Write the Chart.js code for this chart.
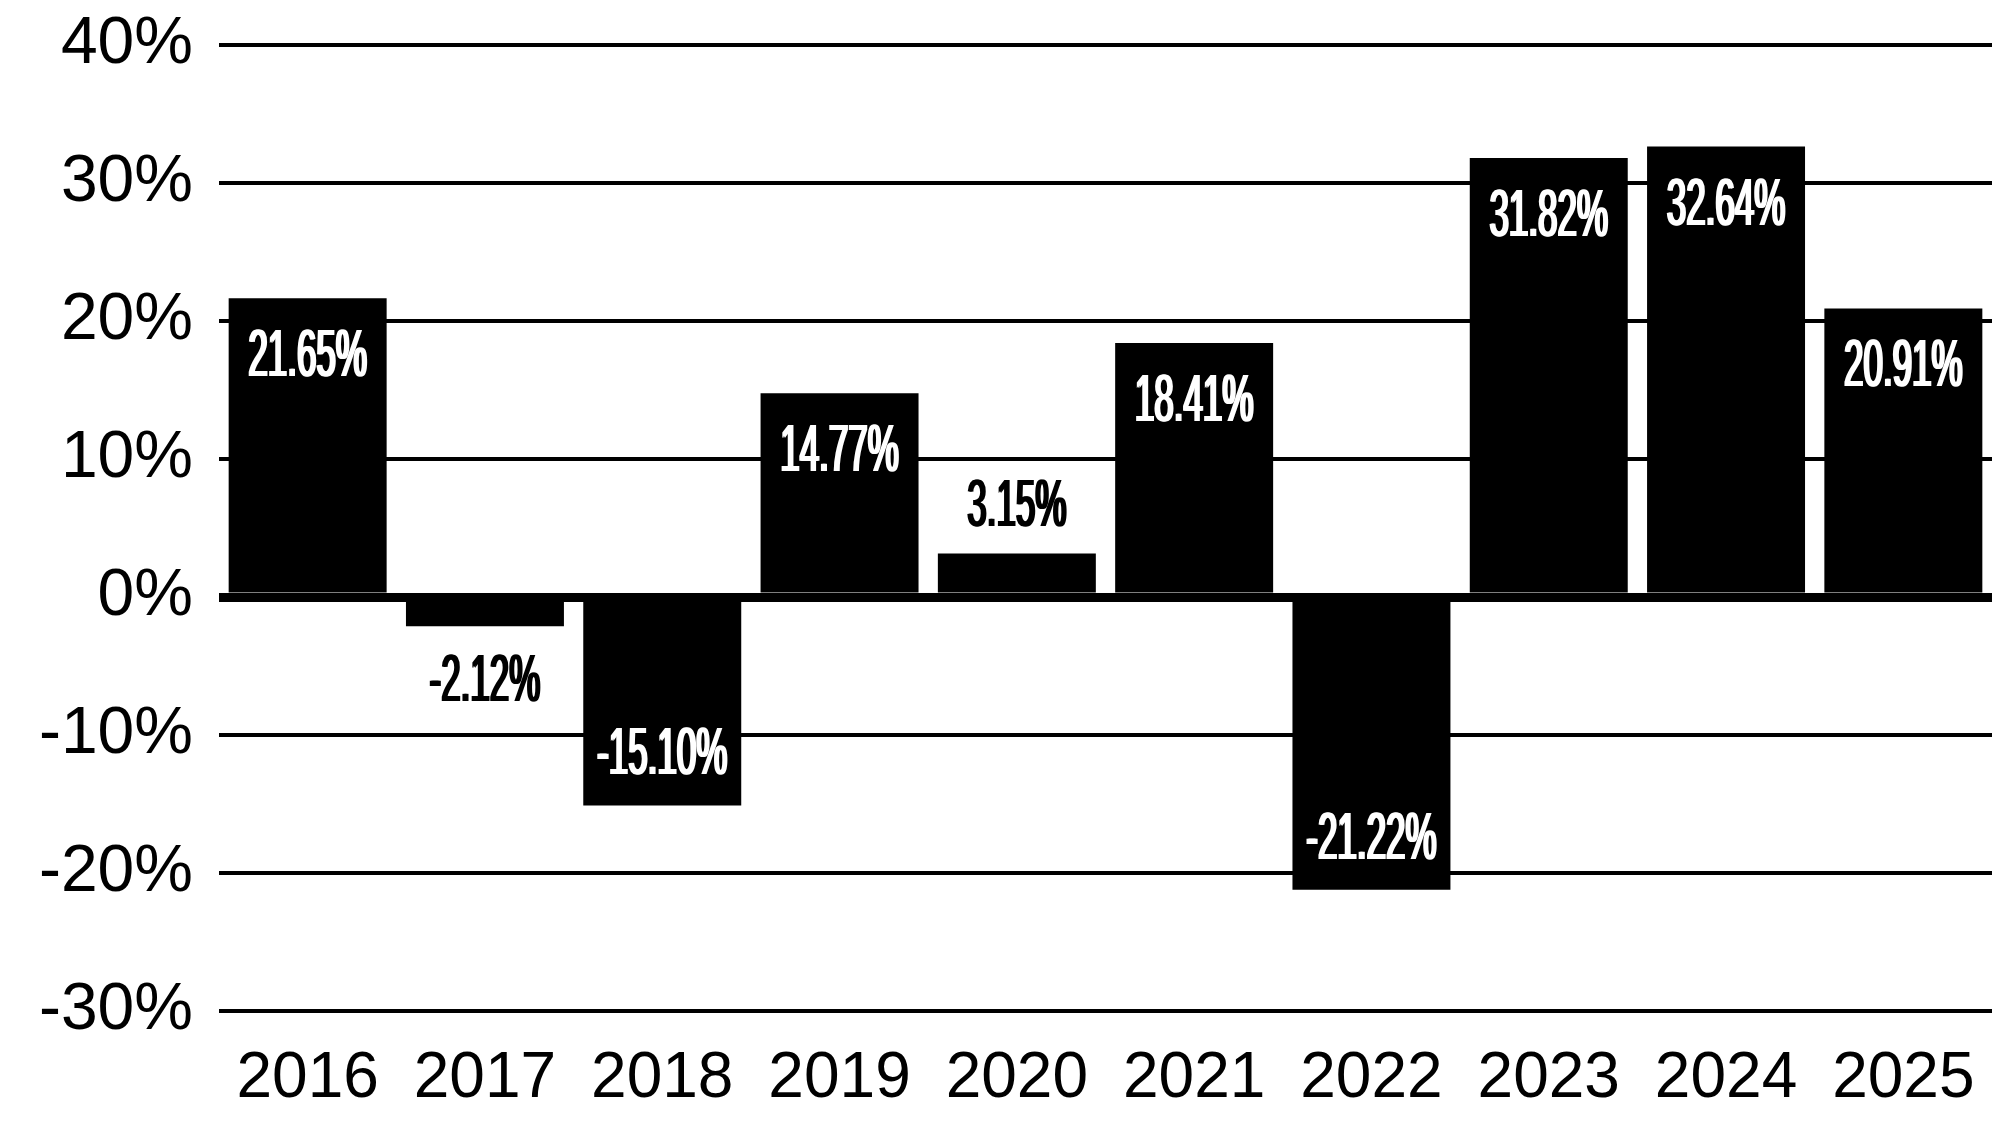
<!DOCTYPE html>
<html lang="en">
<head>
  <meta charset="UTF-8">
  <title>Annual returns</title>
  <style>
    html, body {
      margin: 0;
      background: #fff;
    }
    #wrap {
      width: 1992px;
      height: 1125px;
    }
  </style>
  <script src="https://cdn.jsdelivr.net/npm/chart.js"></script>
</head>
<body>
  <div id="wrap">
    <canvas id="returnsChart" width="1992" height="1125"></canvas>
  </div>
  <script>
    // data
    const years = ["2016", "2017", "2018", "2019", "2020", "2021", "2022", "2023", "2024", "2025"];
    const returns = [21.65, -2.12, -15.10, 14.77, 3.15, 18.41, -21.22, 31.82, 32.64, 20.91];
    const yMin = -30;
    const yMax = 40;
    const yStep = 10;

    const AXIS_FONT = "'Liberation Sans', Arial, sans-serif";

    // value labels: condensed look by squeezing the text horizontally,
    // drawn a few times with a small x shift to thicken the stems
    const barLabels = {
      id: "barLabels",
      afterDatasetsDraw(chart) {
        const ctx = chart.ctx;
        const meta = chart.getDatasetMeta(0);
        const capH = 47;
        const gapIn = 31;
        const gapOut = 28;
        const squeeze = 0.53;
        ctx.save();
        ctx.font = "66px " + AXIS_FONT;
        ctx.textAlign = "center";
        ctx.textBaseline = "alphabetic";
        meta.data.forEach((bar, i) => {
          const v = returns[i];
          const txt = v.toFixed(2) + "%";
          const len = Math.abs(bar.base - bar.y);
          const inside = len > capH + 2 * gapIn;
          let top;
          if (v >= 0) {
            top = inside ? bar.y + gapIn : bar.y - gapOut - capH;
          } else {
            top = inside ? bar.y - gapIn - capH : bar.y + gapOut;
          }
          ctx.fillStyle = inside ? "#fff" : "#000";
          [-1.3, 0, 1.3].forEach((dx) => {
            ctx.save();
            ctx.translate(bar.x + dx, top + capH);
            ctx.scale(squeeze, 1);
            ctx.fillText(txt, 0, 0);
            ctx.restore();
          });
        });
        ctx.restore();
      }
    };

    new Chart(document.getElementById("returnsChart"), {
      type: "bar",
      data: {
        labels: years,
        datasets: [{
          data: returns,
          backgroundColor: "#000",
          borderWidth: 0,
          barPercentage: 0.891,
          categoryPercentage: 1
        }]
      },
      options: {
        responsive: false,
        animation: false,
        devicePixelRatio: 1,
        layout: { padding: { top: 45, right: 0, bottom: 0, left: 0 } },
        plugins: {
          legend: { display: false },
          tooltip: { enabled: false }
        },
        scales: {
          x: {
            grid: { display: false },
            border: { display: false },
            ticks: {
              color: "#000",
              font: { family: AXIS_FONT, size: 64, lineHeight: 1.9 },
              padding: 0,
              maxRotation: 0,
              autoSkip: false
            },
            afterFit(scale) { scale.height = 114; }
          },
          y: {
            min: yMin,
            max: yMax,
            grid: {
              color: "#000",
              lineWidth: (c) => (c.tick && c.tick.value === 0 ? 9 : 4),
              drawTicks: false
            },
            border: { display: false },
            ticks: {
              stepSize: yStep,
              color: "#000",
              font: { family: AXIS_FONT, size: 66, lineHeight: 0.4 },
              padding: 26,
              callback: (v) => v + "%"
            },
            afterFit(scale) { scale.width = 219; }
          }
        }
      },
      plugins: [barLabels]
    });
  </script>
</body>
</html>
